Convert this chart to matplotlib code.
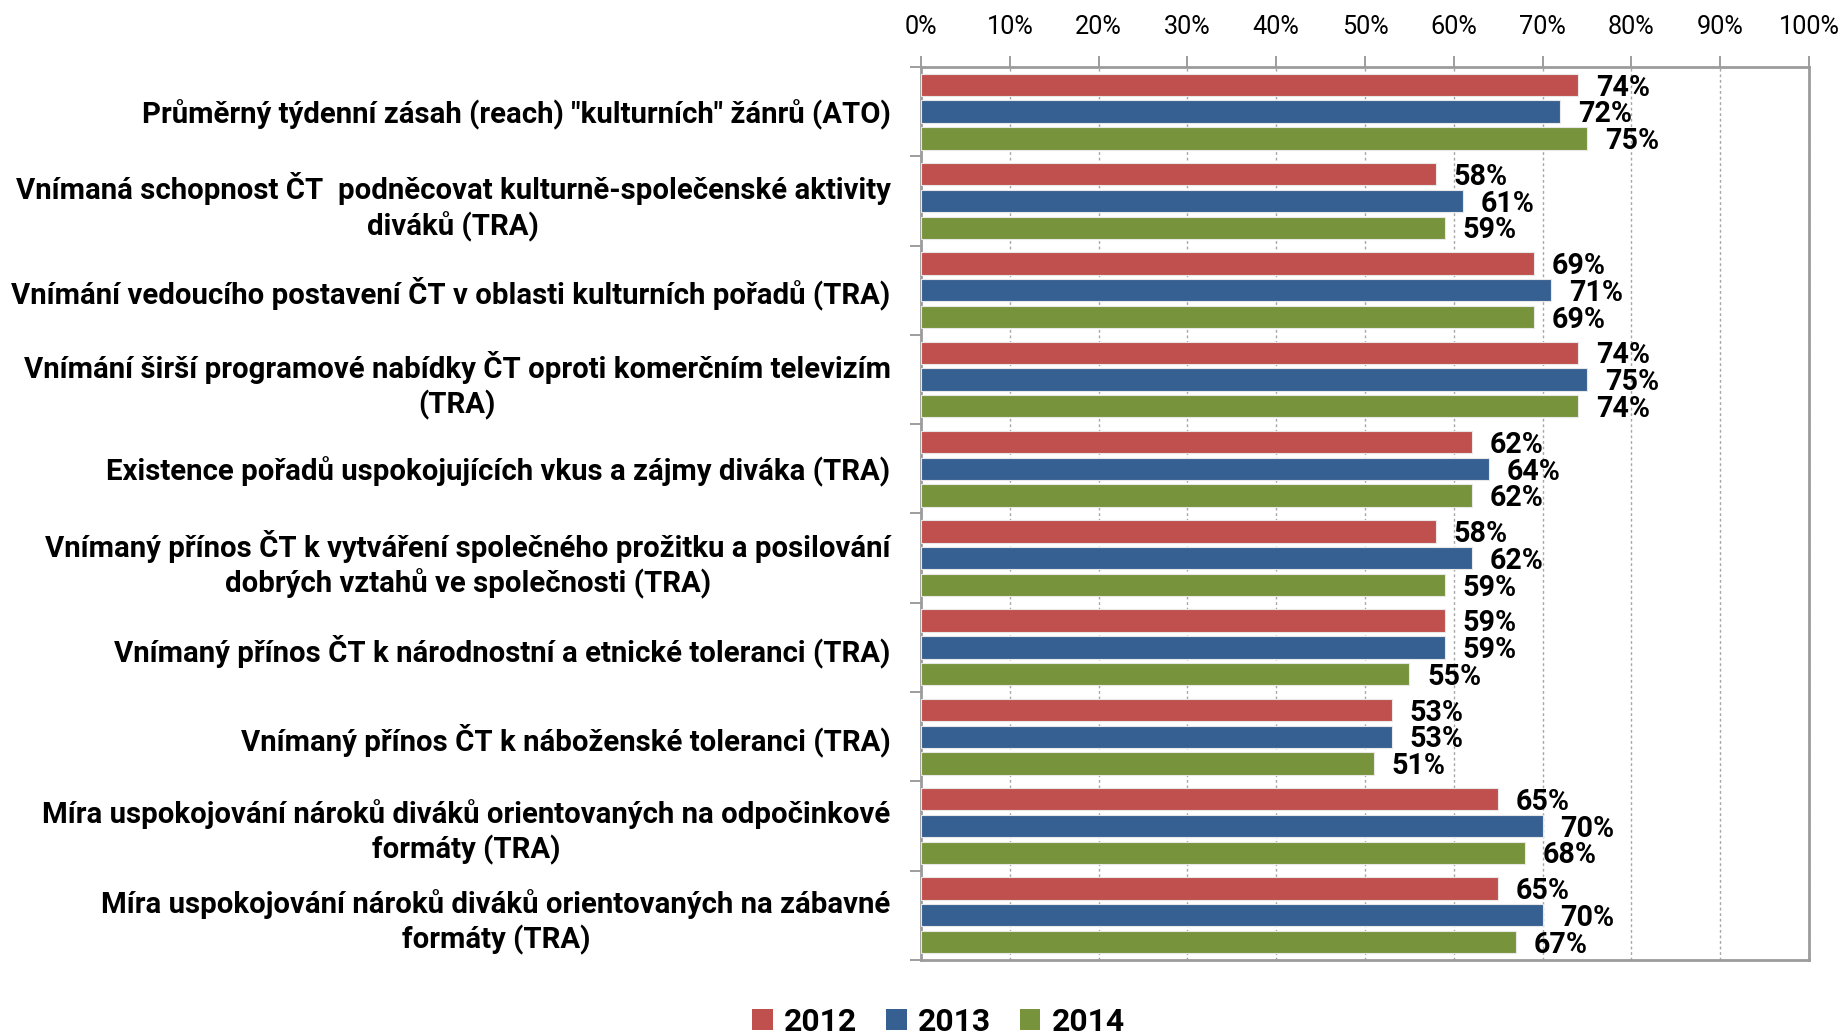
import matplotlib
matplotlib.use("Agg")
import matplotlib.pyplot as plt
from matplotlib.patches import Patch
import numpy as np

plt.rcParams['font.family'] = ['Roboto', 'DejaVu Sans']

categories = [
    'Průměrný týdenní zásah (reach) "kulturních" žánrů (ATO)',
    'Vnímaná schopnost ČT  podněcovat kulturně-společenské aktivity\ndiváků (TRA)',
    'Vnímání vedoucího postavení ČT v oblasti kulturních pořadů (TRA)',
    'Vnímání širší programové nabídky ČT oproti komerčním televizím\n(TRA)',
    'Existence pořadů uspokojujících vkus a zájmy diváka (TRA)',
    'Vnímaný přínos ČT k vytváření společného prožitku a posilování\ndobrých vztahů ve společnosti (TRA)',
    'Vnímaný přínos ČT k národnostní a etnické toleranci (TRA)',
    'Vnímaný přínos ČT k náboženské toleranci (TRA)',
    'Míra uspokojování nároků diváků orientovaných na odpočinkové\nformáty (TRA)',
    'Míra uspokojování nároků diváků orientovaných na zábavné\nformáty (TRA)',
]
series_names = ['2012', '2013', '2014']
v2012 = [74, 58, 69, 74, 62, 58, 59, 53, 65, 65]
v2013 = [72, 61, 71, 75, 64, 62, 59, 53, 70, 70]
v2014 = [75, 59, 69, 74, 62, 59, 55, 51, 68, 67]
colors = ['#C0504D', '#376092', '#77933C']
xticks = [0, 10, 20, 30, 40, 50, 60, 70, 80, 90, 100]
xticklabels = ['0%', '10%', '20%', '30%', '40%', '50%', '60%', '70%', '80%', '90%', '100%']

fig = plt.figure(figsize=(18.47, 10.34), dpi=100)
ax = fig.add_axes([0.4987, 0.0716, 0.4807, 0.8636])


def fit_size(text, target_px, weight='bold', base=20):
    probe = fig.text(0, 0, text, fontsize=base, fontweight=weight)
    fig.canvas.draw()
    w = probe.get_window_extent().width
    probe.remove()
    return base * target_px / w


val_fs = fit_size('74%', 54)
tick_fs = fit_size('100%', 61, weight='normal')
cat_fs = fit_size(categories[2], 878)
leg_fs = fit_size('2012', 73)

y = np.arange(len(categories))
offsets = [-0.30, 0.0, 0.30]
h = 0.25
for vals, off, c in zip([v2012, v2013, v2014], offsets, colors):
    ax.barh(y + off, vals, height=h, color=c, edgecolor='#e8e8e8', linewidth=0.8, zorder=3)
    for yi, v in zip(y, vals):
        ax.text(v + 2.0, yi + off + 0.03, f'{v}%', va='center', ha='left',
                fontsize=val_fs, fontweight='bold', color='black', zorder=4)

ax.set_xlim(0, 100)
ax.set_ylim(len(categories) - 0.5, -0.5)

ax.xaxis.tick_top()
ax.set_xticks(xticks)
ax.set_xticklabels(xticklabels, fontsize=tick_fs)
ax.tick_params(axis='x', which='major', direction='out', length=8, width=1.2, color='#8c8c8c', pad=12)

ax.set_yticks(y)
ax.set_yticklabels(categories, fontsize=cat_fs, fontweight='bold', multialignment='center',
                   linespacing=1.25)
ax.tick_params(axis='y', which='major', length=0, pad=22)
ax.set_yticks(np.arange(-0.5, len(categories)), minor=True)
ax.tick_params(axis='y', which='minor', direction='out', length=8, width=1.2, color='#8c8c8c')

ax.grid(axis='x', which='major', linestyle=(0, (2, 2)), color='#a6a6a6', linewidth=1.0, zorder=0)
for s in ax.spines.values():
    s.set_color('#9c9c9c')
    s.set_linewidth(2)

handles = [Patch(facecolor=c, edgecolor='none') for c in colors]
fig.legend(handles, series_names, loc='center', bbox_to_anchor=(0.508, 0.012), ncol=3,
           frameon=False, prop={'size': leg_fs, 'weight': 'bold'},
           handlelength=0.65, handleheight=0.65, handletextpad=0.35, columnspacing=0.9)

fig.savefig('out.png', dpi=100)
